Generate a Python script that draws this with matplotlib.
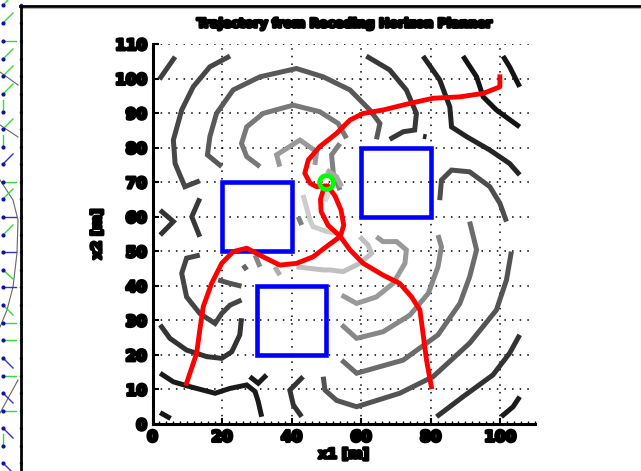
import matplotlib
matplotlib.use("Agg")
import matplotlib.pyplot as plt
from matplotlib.patches import Rectangle
import matplotlib.patheffects as pe

# --- data ------------------------------------------------------------------

# contour pieces, (x1, x2) in metres, with a grey level each
c_top_left = [(2.0, 99.8), (6.5, 106.3)]
c_outer_left = [(22.3, 106.5), (16.5, 103.4), (11.7, 97.6), (8.4, 90.9), (6.0, 82.2),
                (6.5, 75.4), (9.3, 68.7), (13.6, 70.4)]
c_ring3 = [(19.9, 74.5), (15.8, 77.9), (16.5, 83.2), (18.4, 89.9), (23.2, 96.7), (30.9, 100.5),
           (41.4, 102.9), (49.1, 100.5), (56.8, 96.7), (62.5, 90.9), (65.4, 87.0), (64.4, 82.4)]
c_ring3_right = [(61.5, 106.5), (68.2, 102.5), (73.0, 96.7), (75.9, 89.9), (75.4, 85.1),
                 (72.1, 84.6), (68.2, 82.4)]
c_ring4 = [(30.9, 74.5), (27.1, 77.4), (25.6, 81.2), (27.1, 86.0), (31.8, 89.9), (40.5, 92.3),
           (48.1, 90.4), (53.4, 87.0), (55.8, 82.7)]
c_ring5 = [(36.6, 74.5), (35.7, 77.9), (42.4, 82.2), (47.2, 78.8), (46.7, 75.0)]
c_core_a = [(53.9, 81.2), (51.5, 77.9), (52.0, 72.6), (53.9, 67.7)]
c_core_b = [(50.1, 73.5), (52.9, 71.6), (54.4, 68.7)]
c_core_c = [(43.3, 66.3), (45.3, 59.0), (46.2, 57.1), (50.1, 55.7), (53.4, 55.2)]
c_core_d = [(51.0, 67.7), (49.6, 64.4)]
c_core_e = [(41.9, 60.0), (42.9, 57.6)]
c_lt_chevron = [(2.2, 61.9), (6.0, 58.6), (2.2, 54.7)]
c_lt_paren = [(13.6, 65.3), (11.3, 60.0), (13.6, 54.2)]
c_tr_1 = [(77.8, 106.5), (82.6, 99.6), (85.5, 91.8), (86.0, 86.0), (90.3, 83.2), (97.0, 79.3),
          (102.7, 75.4), (105.6, 72.1)]
c_tr_2 = [(89.3, 106.5), (93.2, 100.5), (95.1, 94.7), (98.9, 90.9), (105.6, 86.0)]
c_tr_3 = [(100.8, 106.5), (102.7, 103.4), (105.6, 97.6)]
c_tr_dot = [(77.8, 83.3), (78.8, 83.1)]
c_right_arc = [(82.6, 64.8), (83.1, 70.6), (86.0, 73.5), (91.2, 73.0), (97.0, 68.7),
               (99.9, 63.9), (101.8, 58.6)]
c_light = [(41.4, 45.5), (49.1, 44.6), (51.0, 44.6), (54.8, 44.1), (59.6, 46.5), (63.0, 49.4),
           (62.0, 51.8), (59.6, 54.2)]
c_light_b = [(35.2, 45.5), (36.6, 43.1)]
c_mid_b = [(64.4, 54.2), (66.3, 52.8), (70.2, 52.8), (73.0, 50.4), (72.6, 46.5), (69.2, 40.7),
           (64.4, 36.8), (58.7, 34.9), (54.4, 37.3)]
c_mid_c = [(82.1, 54.7), (83.1, 51.3), (82.1, 45.5), (79.3, 37.8), (74.0, 31.5), (66.3, 26.7),
           (58.7, 24.8), (54.4, 28.7)]
c_mid_d = [(91.2, 58.6), (93.2, 50.4), (91.2, 42.6), (88.4, 34.9), (82.1, 25.8), (72.1, 18.5),
           (58.7, 14.7), (54.4, 18.5)]
c_mid_e = [(49.1, 13.7), (49.6, 9.8), (53.0, 6.8), (58.7, 5.0), (71.1, 8.9), (80.7, 13.7),
           (91.2, 23.4), (98.9, 33.0), (101.8, 41.7), (103.2, 49.9)]
c_br_1 = [(105.6, 25.8), (102.7, 20.5), (97.9, 14.2), (89.3, 7.9), (81.7, 2.1)]
c_br_2 = [(105.6, 7.9), (103.7, 5.0), (100.3, 2.1)]
c_bl_k = [(13.6, 48.9), (9.8, 48.0), (8.4, 43.6), (9.8, 36.8), (13.6, 32.0), (18.0, 29.1),
          (19.9, 32.0), (22.3, 34.4), (25.6, 35.9)]
c_bl_l = [(2.2, 28.7), (5.0, 24.8), (9.8, 21.4), (15.6, 19.5), (19.9, 19.0), (22.8, 20.9),
          (25.1, 25.8), (25.6, 30.6)]
c_bl_m = [(2.2, 14.7), (6.0, 12.2), (10.8, 10.8), (18.0, 8.9), (22.3, 10.3), (27.1, 11.3),
          (29.5, 9.4), (30.4, 6.5), (31.4, 2.1)]
c_bl_n = [(28.0, 13.7), (30.4, 11.8), (32.8, 14.2)]
c_bl_o = [(43.3, 13.7), (39.5, 9.8), (40.5, 5.5), (42.9, 2.1)]
c_bl_p = [(2.2, 3.3), (5.2, 1.6)]
c_bl_q = [(18.9, 41.7), (22.3, 40.7), (25.6, 39.9)]
c_bl_r = [(26.1, 46.0), (27.1, 44.6)]
c_bl_s = [(29.5, 48.9), (30.9, 45.5)]

contours = [c_top_left, c_outer_left, c_ring3, c_ring3_right, c_ring4, c_ring5,
            c_core_a, c_core_b, c_core_c, c_core_d, c_core_e, c_lt_chevron, c_lt_paren,
            c_tr_1, c_tr_2, c_tr_3, c_tr_dot, c_right_arc, c_light, c_light_b, c_mid_b,
            c_mid_c, c_mid_d, c_mid_e, c_br_1, c_br_2, c_bl_k, c_bl_l, c_bl_m, c_bl_n,
            c_bl_o, c_bl_p, c_bl_q, c_bl_r, c_bl_s]
grey = [0.25, 0.28, 0.35, 0.22, 0.47, 0.6,
        0.5, 0.66, 0.8, 0.86, 0.5, 0.2, 0.22,
        0.14, 0.08, 0.08, 0.15, 0.3, 0.75, 0.68, 0.6,
        0.53, 0.42, 0.33, 0.2, 0.1, 0.27, 0.2, 0.1, 0.1,
        0.2, 0.08, 0.33, 0.4, 0.53]

# obstacles (lower-left corner, side)
obst_x = [20, 60, 30]
obst_y = [50, 60, 20]
obst_side = 20

# trajectories
traj1 = [(99.9, 100.5), (99.9, 97.6), (95.1, 95.7), (88.4, 94.7), (80.7, 94.3), (74.0, 92.8),
         (66.3, 90.9), (60.6, 89.9), (56.8, 88.0), (52.9, 84.1), (48.1, 80.3), (44.8, 76.4),
         (43.8, 72.6), (45.3, 69.7), (47.2, 68.7), (49.6, 68.9)]
traj2 = [(9.8, 11.8), (12.7, 20.5), (13.6, 27.2), (14.6, 34.0), (17.0, 40.7), (19.9, 46.5),
         (23.2, 49.9), (27.1, 50.9), (31.8, 48.4), (36.6, 46.0), (41.4, 46.5), (46.2, 48.4),
         (50.2, 51.5), (54.0, 54.3), (55.0, 57.5), (54.2, 62.0), (52.5, 66.0), (50.5, 68.8)]
traj3 = [(80.2, 10.8), (78.8, 18.5), (77.8, 26.2), (76.9, 33.0), (74.5, 36.8), (71.1, 40.7),
         (66.3, 43.1), (60.6, 46.5), (56.8, 50.4), (54.0, 54.3), (50.5, 57.5), (48.5, 61.5),
         (48.3, 65.0), (49.3, 68.3)]
goal = (50, 70)

xticks = [0, 20, 40, 60, 80, 100]
yticks = [0, 10, 20, 30, 40, 50, 60, 70, 80, 90, 100, 110]

# window behind the figure on the far left (pixel coords)
strip_y = [5, 23, 41, 59, 76, 94, 112, 129, 147, 164, 182, 199, 217, 235, 252, 270,
           287, 305, 323, 340, 358, 376, 393, 411, 428, 446, 463]
strip_dx = [7, 10, 13, 10, 10, 10, 0, 10, 0, 10, 13, 10, 13, 10, 13, 10,
            13, 10, 13, 13, 10, 13, 10, 13, 10, 0, 10]
strip_dy = [-7, -10, 0, -10, -10, -10, -12, -10, -12, -10, 0, -10, 0, -10, 0, 9,
            0, 10, 0, 0, 10, 0, 10, 0, 10, -12, 10]
strip_col = ["g", "g", "g", "g", "g", "g", "g", "g", "g", "b", "g", "g", "b", "g", "b", "g",
             "b", "g", "g", "g", "b", "g", "b", "g", "b", "g", "b"]
strip_grey_x = [[0, 18], [0, 18], [0, 13, 18, 17, 13, 7, 0], [18, 0]]
strip_grey_y = [[72, 85], [125, 137], [180, 200, 220, 253, 287, 310, 327], [380, 413]]

# --- figure -----------------------------------------------------------------
W, H = 641, 471
fig = plt.figure(figsize=(W / 100, H / 100), dpi=100)
fig.patch.set_facecolor("white")

bold = [pe.withStroke(linewidth=2.2, foreground="black")]

ax = fig.add_axes([152.5 / W, 47 / H, 382.5 / W, 380 / H])
for pts, g in zip(contours, grey):
    xs, ys = zip(*pts)
    ax.plot(xs, ys, color=(g, g, g), lw=3.6, solid_capstyle="butt", solid_joinstyle="miter",
            zorder=2)

for x0, y0 in zip(obst_x, obst_y):
    ax.add_patch(Rectangle((x0, y0), obst_side, obst_side, fill=False, ec=(0, 0, 1),
                           lw=3.3, zorder=3))

for tr in (traj1, traj2, traj3):
    xs, ys = zip(*tr)
    ax.plot(xs, ys, color=(1, 0, 0), lw=3.5, zorder=4)

ax.plot([goal[0]], [goal[1]], "o", ms=10, mec=(0, 1, 0), mfc="none", mew=3.4, zorder=5)

ax.set_xlim(0, 110)
ax.set_ylim(0, 110)
ax.set_xticks(xticks)
ax.set_yticks(yticks)
ax.set_xticks(range(0, 111, 2), minor=True)
ax.grid(True, which="major", color="black", linestyle=(0, (1, 4)), lw=1.1)
for s in ("top", "right"):
    ax.spines[s].set_visible(False)
for s in ("left", "bottom"):
    ax.spines[s].set_linewidth(2.2)
ax.tick_params(which="major", direction="in", length=4, width=1.5, pad=4)
ax.tick_params(which="minor", direction="in", length=2, width=1)
for lab in ax.get_xticklabels() + ax.get_yticklabels():
    lab.set_fontsize(11)
    lab.set_fontweight("bold")
    lab.set_path_effects(bold)

ax.set_title("Trajectory from Receding Horizon Planner", fontsize=9, fontweight="bold",
             pad=12, path_effects=bold)
ax.set_xlabel("x1 [m]", fontsize=10, fontweight="bold", labelpad=2, path_effects=bold)
ax.set_ylabel("x2 [m]", fontsize=10, fontweight="bold", labelpad=8, path_effects=bold)

# left strip with the other window's arrows
sx = fig.add_axes([0, 0, 22 / W, 1])
sx.set_xlim(0, 22)
sx.set_ylim(H, 0)
sx.axis("off")
for gx, gy in zip(strip_grey_x, strip_grey_y):
    sx.plot(gx, gy, color="0.4", lw=0.8)
for y, dx, dy, c in zip(strip_y, strip_dx, strip_dy, strip_col):
    sx.plot([3, 3 + dx], [y, y + dy], color="#33dd33" if c == "g" else "#3333cc", lw=1)
    sx.plot([3], [y], "o", ms=2, color="#1111aa")
    sx.plot([21], [y], "o", ms=1.5, color="#1111aa")

# window frame
fig.add_artist(plt.Line2D([20 / W, 1], [1 - 6 / H, 1 - 6 / H], color="black", lw=2))
fig.add_artist(plt.Line2D([20 / W, 1], [1 - 8 / H, 1 - 8 / H], color="0.7", lw=0.8))
fig.add_artist(plt.Line2D([20.5 / W, 20.5 / W], [0, 1 - 6 / H], color="black", lw=2))

fig.savefig("out.png", dpi=100)
